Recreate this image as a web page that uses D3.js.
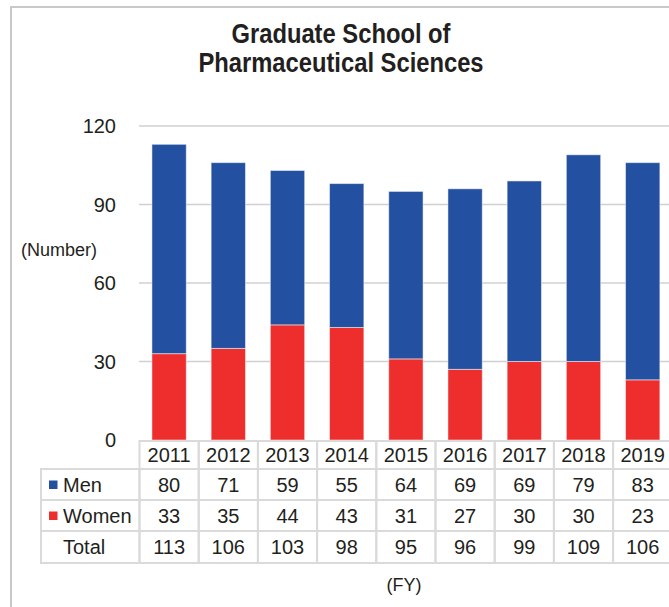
<!DOCTYPE html>
<html>
  <head>
    <meta charset="utf-8">
    <title>Graduate School of Pharmaceutical Sciences</title>
    <style>
      body { margin: 0; background: #fff; }
      svg { display: block; font-family: "Liberation Sans", Arial, sans-serif; }
      .grid line { stroke: #d0d0d0; stroke-width: 1.5px; }
      .cell { fill: none; stroke: #dadada; stroke-width: 2px; }
      .tbl { font-size: 20px; fill: #231f20; }
    </style>
  </head>
  <body>
    <div id="chart"></div>
    <script src="https://cdn.jsdelivr.net/npm/d3@7"></script>
    <script>
      // values
      const years = ["2011", "2012", "2013", "2014", "2015", "2016", "2017", "2018", "2019"];
      const men = [80, 71, 59, 55, 64, 69, 69, 79, 83];
      const women = [33, 35, 44, 43, 31, 27, 30, 30, 23];
      const yTicks = [0, 30, 60, 90, 120];

      const width = 669, height = 607;
      const colors = { men: "#2350a0", women: "#ee2d2d" };

      const svg = d3.select("#chart").append("svg")
          .attr("width", width)
          .attr("height", height);

      // frame lines (left and top)
      svg.append("line").attr("x1", 11).attr("x2", 11).attr("y1", 7).attr("y2", height)
          .attr("stroke", "#c8c8c8").attr("stroke-width", 2);
      svg.append("line").attr("x1", 10).attr("x2", width).attr("y1", 7).attr("y2", 7)
          .attr("stroke", "#c8c8c8").attr("stroke-width", 2);

      // title (a bit condensed, like the original)
      const title = svg.append("g")
          .attr("transform", "translate(341,0) scale(0.88,1)")
        .append("text")
          .attr("text-anchor", "middle")
          .attr("font-size", 27)
          .attr("font-weight", "bold")
          .attr("fill", "#231f20");
      title.append("tspan").attr("x", 0).attr("y", 43).text("Graduate School of");
      title.append("tspan").attr("x", 0).attr("y", 72).text("Pharmaceutical Sciences");

      const x = d3.scaleBand()
          .domain(years)
          .range([139.5, 139.5 + 59.2 * years.length])
          .paddingInner(0.42)
          .paddingOuter(0.21);

      const y = d3.scaleLinear().domain([0, 120]).range([440, 126]);

      // gridlines
      svg.append("g").attr("class", "grid")
        .selectAll("line")
        .data(yTicks.filter(d => d > 0))
        .join("line")
          .attr("x1", 139).attr("x2", width)
          .attr("y1", d => y(d)).attr("y2", d => y(d));

      // y tick labels
      svg.append("g")
        .selectAll("text")
        .data(yTicks)
        .join("text")
          .attr("x", 116)
          .attr("y", d => y(d))
          .attr("dy", "0.35em")
          .attr("text-anchor", "end")
          .attr("font-size", 20)
          .attr("fill", "#231f20")
          .text(d => d);

      svg.append("text")
          .attr("x", 59).attr("y", 256)
          .attr("text-anchor", "middle")
          .attr("font-size", 18)
          .attr("fill", "#231f20")
          .text("(Number)");

      // stacked bars
      const rows = years.map((yr, i) => ({ year: yr, men: men[i], women: women[i] }));
      const series = d3.stack().keys(["women", "men"])(rows);

      svg.append("g")
        .selectAll("g")
        .data(series)
        .join("g")
          .attr("fill", d => colors[d.key])
        .selectAll("rect")
        .data(d => d)
        .join("rect")
          .attr("x", d => x(d.data.year))
          .attr("y", d => y(d[1]))
          .attr("width", x.bandwidth())
          .attr("height", d => y(d[0]) - y(d[1]))
          .attr("stroke", "#fff")
          .attr("stroke-opacity", 0.5)
          .attr("stroke-width", 1);

      // data table
      const colW = x.step();
      const colX = d => 139.5 + years.indexOf(d) * colW;
      const rowTop = [441, 469, 500, 531];
      const rowBot = [469, 500, 531, 563];
      const tbl = svg.append("g").attr("class", "tbl");

      // year header row
      years.forEach(yr => {
        tbl.append("rect").attr("class", "cell")
            .attr("x", colX(yr)).attr("y", rowTop[0])
            .attr("width", colW).attr("height", rowBot[0] - rowTop[0]);
        tbl.append("text")
            .attr("x", colX(yr) + colW / 2).attr("y", (rowTop[0] + rowBot[0]) / 2)
            .attr("dy", "0.35em").attr("text-anchor", "middle")
            .text(yr);
      });

      const tableRows = [
        { label: "Men", key: "men", values: men },
        { label: "Women", key: "women", values: women },
        { label: "Total", key: null, values: men.map((m, i) => m + women[i]) }
      ];

      tableRows.forEach((r, ri) => {
        const top = rowTop[ri + 1], bot = rowBot[ri + 1], mid = (top + bot) / 2;
        tbl.append("rect").attr("class", "cell")
            .attr("x", 41).attr("y", top)
            .attr("width", 139.5 - 41).attr("height", bot - top);
        if (r.key) {
          tbl.append("rect")
              .attr("x", 49).attr("y", mid - 4)
              .attr("width", 8.5).attr("height", 8.5)
              .attr("fill", colors[r.key]);
        }
        tbl.append("text")
            .attr("x", 63).attr("y", mid)
            .attr("dy", "0.35em")
            .text(r.label);
        years.forEach((yr, i) => {
          tbl.append("rect").attr("class", "cell")
              .attr("x", colX(yr)).attr("y", top)
              .attr("width", colW).attr("height", bot - top);
          tbl.append("text")
              .attr("x", colX(yr) + colW / 2).attr("y", mid)
              .attr("dy", "0.35em").attr("text-anchor", "middle")
              .text(r.values[i]);
        });
      });

      svg.append("text")
          .attr("x", 404).attr("y", 591)
          .attr("text-anchor", "middle")
          .attr("font-size", 18)
          .attr("fill", "#231f20")
          .text("(FY)");
    </script>
  </body>
</html>
